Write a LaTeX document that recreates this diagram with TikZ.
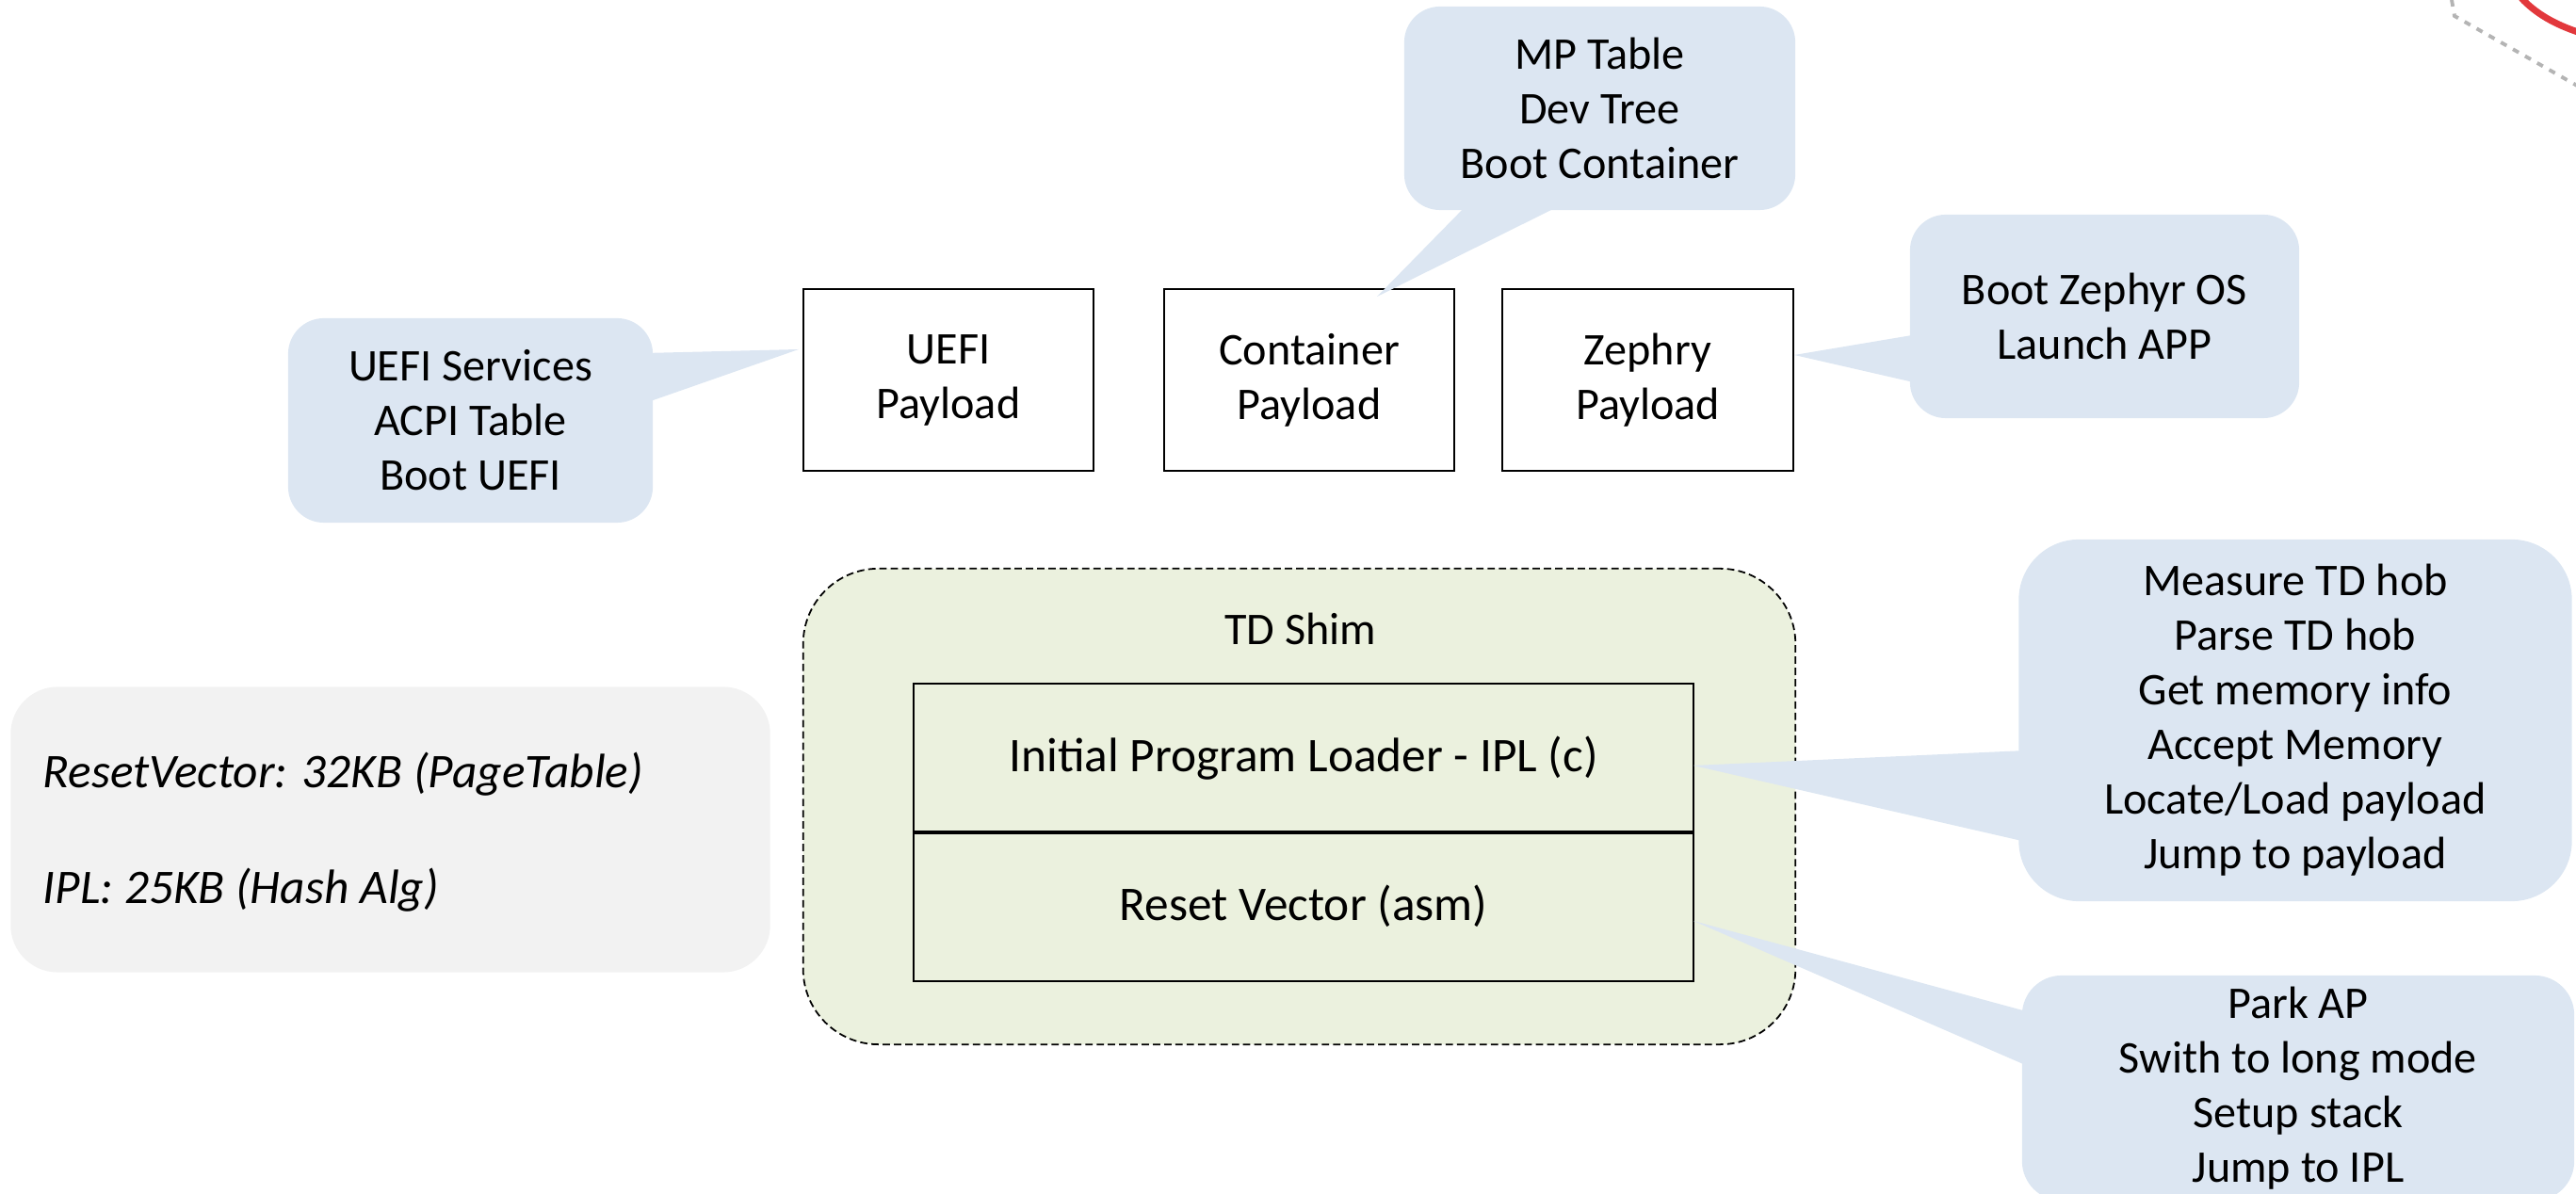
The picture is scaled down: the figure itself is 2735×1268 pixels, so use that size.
\documentclass[tikz,border=0pt]{standalone}
\usepackage{fontspec}
\setmainfont{Carlito}
\definecolor{calloutblue}{HTML}{DCE6F2}
\definecolor{shimgreen}{HTML}{EBF1DE}
\definecolor{notegray}{HTML}{F2F2F2}
\definecolor{decogray}{HTML}{B4B4B4}
\definecolor{decored}{HTML}{E2383C}
\begin{document}
\begin{tikzpicture}[x=0.01cm,y=-0.01cm,
  every node/.style={font=\fontsize{13.7pt}{16.5pt}\selectfont, align=center, inner sep=0pt},
  bigtext/.style={font=\fontsize{14.6pt}{17pt}\selectfont},
  payload/.style={draw, line width=0.6pt, minimum width=3.08cm, minimum height=1.93cm},
  layer/.style={draw, line width=0.6pt, minimum width=8.28cm, minimum height=1.57cm, bigtext},
  bubble/.style={fill=calloutblue, minimum width=#1},
  pointer/.style={fill=calloutblue}
]
\useasboundingbox (0,0) rectangle (2735,1268);
\clip (0,0) rectangle (2735,1268);

% decoration at top right corner
\draw[decogray, line width=1.1pt, dash pattern=on 2pt off 2.2pt] (2603,0) -- (2606,17) -- (2745,96);
\draw[decored, line width=2pt] (2677,-2) .. controls (2692,14) and (2712,26) .. (2740,35);

% TD Shim container
\node[draw, dash pattern=on 2.2pt off 1.2pt, line width=0.5pt, fill=shimgreen,
      rounded corners=0.8cm, minimum width=10.53cm, minimum height=5.05cm] (shim) at (1379.5,856.5) {};
\node (shimlbl) at (1381,668) {TD Shim};
\node[layer, minimum height=1.58cm] (ipl) at (1384,805.5) {Initial Program Loader - IPL (c)};
\node[layer, minimum height=1.59cm] (rv) at (1384,962.5) {Reset Vector (asm)};

% payload boxes
\node[payload] (uefi) at (1007,403.5) {UEFI\\Payload};
\node[payload] (cont) at (1390,403.5) {Container\\Payload};
\node[payload] (zeph) at (1749.5,403.5) {Zephry\\Payload};

% size note
\node[fill=notegray, rounded corners=0.5cm, minimum width=8.06cm, minimum height=3.03cm] (note) at (414.5,881) {};
\node[anchor=base west, font=\fontsize{14.6pt}{17pt}\selectfont\itshape] (n1) at (45,837) {ResetVector: 32KB (PageTable)};
\node[anchor=base west, font=\fontsize{14.6pt}{17pt}\selectfont\itshape] (n2) at (45,960) {IPL: 25KB (Hash Alg)};

% callouts
\node[bubble=4.15cm, rounded corners=0.38cm, minimum height=2.16cm] (mpc) at (1698.5,115)
  {MP Table\\Dev Tree\\Boot Container};
\node[bubble=3.87cm, rounded corners=0.38cm, minimum height=2.17cm] (uefic) at (499.5,446.5)
  {UEFI Services\\ACPI Table\\Boot UEFI};
\node[bubble=4.13cm, rounded corners=0.38cm, minimum height=2.16cm] (zephc) at (2234.5,336)
  {Boot Zephyr OS\\Launch APP};
\node[bubble=5.87cm, rounded corners=0.64cm, minimum height=3.84cm] (iplc) at (2437,765)
  {Measure TD hob\\Parse TD hob\\Get memory info\\Accept Memory\\Locate/Load payload\\Jump to payload};
\node[bubble=5.86cm, rounded corners=0.42cm, minimum height=2.39cm] (rvc) at (2440,1155.5)
  {Park AP\\Swith to long mode\\Setup stack\\Jump to IPL};

% pointer geometry
\coordinate (mpA) at (1560,215);
\coordinate (mpB) at (1663,215);
\coordinate (mpT) at (1462,315);
\coordinate (ueA) at (685,375);
\coordinate (ueB) at (685,428);
\coordinate (ueT) at (848,371);
\coordinate (zeA) at (2036,355);
\coordinate (zeB) at (2036,407);
\coordinate (zeT) at (1905,377);
\coordinate (ipA) at (2151,797);
\coordinate (ipB) at (2151,894);
\coordinate (ipT) at (1798,813);
\coordinate (rvA) at (2155,1075);
\coordinate (rvB) at (2155,1133);
\coordinate (rvT) at (1798,978);

\fill[pointer] (mpA) -- (mpT) -- (mpB) -- cycle;
\fill[pointer] (ueA) -- (ueT) -- (ueB) -- cycle;
\fill[pointer] (zeA) -- (zeT) -- (zeB) -- cycle;
\fill[pointer] (ipA) -- (ipT) -- (ipB) -- cycle;
\fill[pointer] (rvA) -- (rvT) -- (rvB) -- cycle;
\end{tikzpicture}
\end{document}
